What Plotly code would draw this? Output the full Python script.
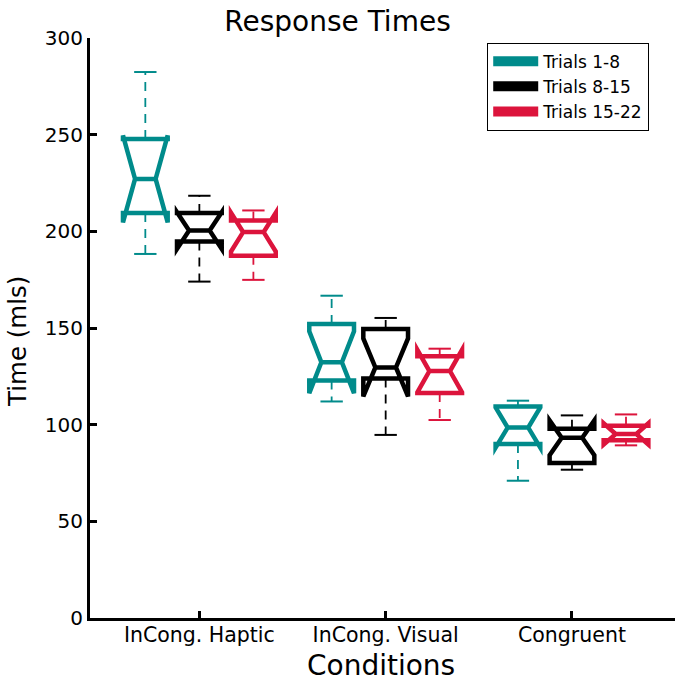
import plotly.graph_objects as go

# ---------------- data ----------------
categories = ["InCong. Haptic", "InCong. Visual", "Congruent"]
series_names = ["Trials 1-8", "Trials 8-15", "Trials 15-22"]

# Trials 1-8
t1_lower = [188.3, 112.0, 71.0]
t1_q1 = [209.5, 122.8, 90.0]
t1_median = [227.1, 132.3, 98.5]
t1_q3 = [247.8, 152.1, 109.4]
t1_upper = [282.4, 166.7, 112.4]
t1_notch = [22.5, 16.0, 10.4]

# Trials 8-15
t2_lower = [174.0, 94.7, 76.7]
t2_q1 = [194.8, 123.9, 80.2]
t2_median = [200.4, 129.6, 93.2]
t2_q3 = [209.5, 149.5, 97.9]
t2_upper = [218.4, 155.2, 104.8]
t2_notch = [9.5, 15.0, 9.0]

# Trials 15-22
t3_lower = [174.9, 102.4, 89.3]
t3_q1 = [187.4, 116.4, 91.9]
t3_median = [199.6, 127.7, 95.2]
t3_q3 = [205.6, 135.4, 99.5]
t3_upper = [210.8, 139.3, 105.3]
t3_notch = [10.0, 11.0, 5.5]

y_ticks = [0, 50, 100, 150, 200, 250, 300]

# ---------------- styling ----------------
colors = ["#008B8B", "#000000", "#DC143C"]
offsets = [-0.29, 0.0, 0.29]
box_width = 0.24
cap_half = box_width / 4

stats = [
    (t1_lower, t1_q1, t1_median, t1_q3, t1_upper, t1_notch),
    (t2_lower, t2_q1, t2_median, t2_q3, t2_upper, t2_notch),
    (t3_lower, t3_q1, t3_median, t3_q3, t3_upper, t3_notch),
]

fig = go.Figure()
base_pos = list(range(1, len(categories) + 1))

for s, (lo, q1, med, q3, up, nsp) in enumerate(stats):
    xpos = [p + offsets[s] for p in base_pos]
    col = colors[s]
    # whiskers (dashed) and caps (solid)
    wx, wy = [], []
    cx, cy = [], []
    for i, x in enumerate(xpos):
        wx += [x, x, None, x, x, None]
        wy += [q3[i], up[i], None, q1[i], lo[i], None]
        cx += [x - cap_half, x + cap_half, None, x - cap_half, x + cap_half, None]
        cy += [up[i], up[i], None, lo[i], lo[i], None]
    fig.add_trace(go.Scatter(x=wx, y=wy, mode="lines", showlegend=False,
                             line=dict(color=col, width=1.8, dash="9px,7px"),
                             hoverinfo="skip"))
    fig.add_trace(go.Scatter(x=cx, y=cy, mode="lines", showlegend=False,
                             line=dict(color=col, width=2), hoverinfo="skip"))
    # notched boxes
    fig.add_trace(go.Box(
        x=xpos, q1=q1, median=med, q3=q3, lowerfence=q1, upperfence=q3,
        notchspan=nsp, notched=True, notchwidth=0.27, width=box_width,
        whiskerwidth=0, fillcolor="rgba(0,0,0,0)",
        line=dict(color=col, width=4.5), showlegend=False, name=series_names[s],
    ))
    # legend patch
    fig.add_trace(go.Scatter(x=[None], y=[None], mode="lines", name=series_names[s],
                             line=dict(color=col, width=10)))

font_family = "DejaVu Sans"
fig.update_layout(
    width=675, height=681,
    margin=dict(l=90, r=0, t=38, b=63),
    paper_bgcolor="white", plot_bgcolor="white",
    font=dict(family=font_family, color="black", size=20),
    title=dict(text="Response Times", x=0.5, xref="container", xanchor="center",
               y=1 - 21 / 681, yref="container", yanchor="middle",
               font=dict(size=28, family=font_family, color="black")),
    showlegend=True,
    legend=dict(x=0.679, y=0.992, xanchor="left", yanchor="top",
                bordercolor="black", borderwidth=1, bgcolor="white",
                font=dict(size=17, family=font_family, color="black"),
                itemwidth=45, tracegroupgap=2),
    boxmode="overlay",
    annotations=[
        dict(text="Time (mls)", textangle=-90, showarrow=False,
             xref="paper", yref="paper", x=-0.123, y=0.476,
             xanchor="center", yanchor="middle",
             font=dict(size=24.5, family=font_family, color="black")),
        dict(text="Conditions", showarrow=False,
             xref="paper", yref="paper", x=0.497, y=-0.1127,
             xanchor="center", yanchor="bottom", borderpad=0,
             font=dict(size=28, family=font_family, color="black")),
    ],
)
fig.update_xaxes(
    range=[0.413, 3.553], tickvals=base_pos, ticktext=categories,
    showline=True, linecolor="black", linewidth=3, mirror=False,
    ticks="inside", ticklen=7, tickwidth=3, tickcolor="black",
    showgrid=False, zeroline=False, ticklabelstandoff=-4,
    tickfont=dict(size=20.5, family=font_family, color="black"),
)
fig.update_yaxes(
    range=[0, 300], tickvals=y_ticks, ticktext=[str(v) for v in y_ticks],
    showline=True, linecolor="black", linewidth=3, mirror=False,
    ticks="inside", ticklen=7, tickwidth=3, tickcolor="black",
    showgrid=False, zeroline=False,
    tickfont=dict(size=20, family=font_family, color="black"),
)

fig.write_html("out.html", config={"displayModeBar": False},
               post_script="document.body.style.margin='0';document.body.style.overflow='hidden';")
